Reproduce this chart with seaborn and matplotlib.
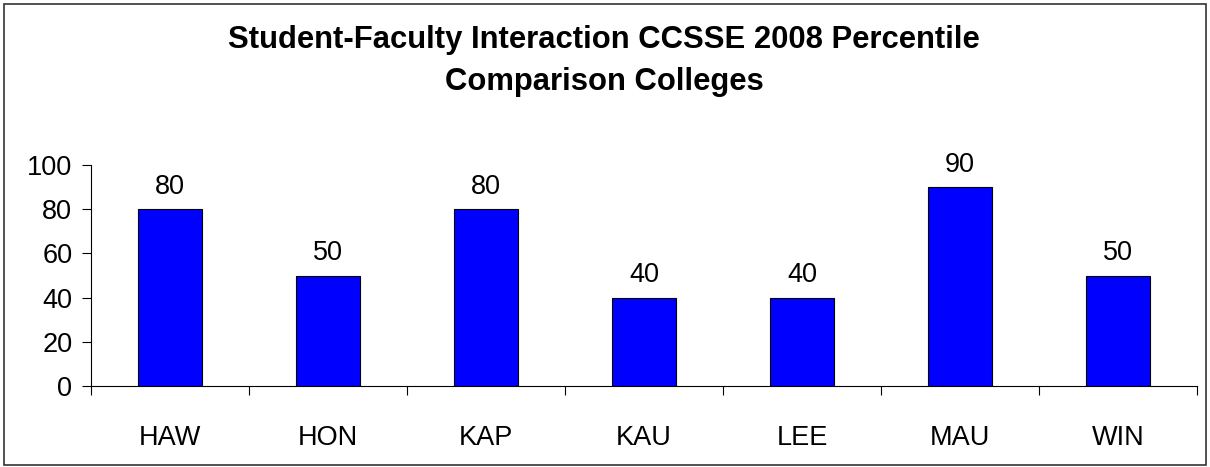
import matplotlib
matplotlib.use("Agg")
import matplotlib.pyplot as plt
import seaborn as sns
import pandas as pd
from matplotlib.patches import Rectangle

colleges = ["HAW", "HON", "KAP", "KAU", "LEE", "MAU", "WIN"]
percentiles = [80, 50, 80, 40, 40, 90, 50]
title_text = "Student-Faculty Interaction CCSSE 2008 Percentile\nComparison Colleges"

sns.set_style("white")
plt.rcParams["font.family"] = ["Liberation Sans", "DejaVu Sans"]
plt.rcParams["text.color"] = "black"
plt.rcParams["xtick.color"] = "black"
plt.rcParams["ytick.color"] = "black"

df = pd.DataFrame({"college": colleges, "pct": percentiles})

fig = plt.figure(figsize=(12.1, 4.67), dpi=100)
ax = fig.add_axes([91/1210, 1-386/467, (1197-91)/1210, (386-165)/467])

sns.barplot(data=df, x="college", y="pct", color="#0000FF", width=0.405,
            edgecolor="black", linewidth=0.8, saturation=1, ax=ax)

for i, v in enumerate(percentiles):
    ax.text(i, v + 10, str(v), ha="center", va="center", fontsize=19.5, color="black")

ax.set_ylim(0, 100)
ax.set_xlim(-0.5, len(colleges) - 0.5)
ax.set_yticks(range(0, 101, 20))
ax.set_xlabel("")
ax.set_ylabel("")
ax.tick_params(axis="y", labelsize=19.5, length=6.5, width=0.8, direction="out",
               left=True, pad=7, colors="black")
ax.tick_params(axis="x", labelsize=19.5, length=0, pad=28, colors="black")
ax.set_xticks([i - 0.5 for i in range(len(colleges) + 1)], minor=True)
ax.tick_params(axis="x", which="minor", length=6.5, width=0.8, direction="out", bottom=True)
for s in ["top", "right"]:
    ax.spines[s].set_visible(False)
for s in ["left", "bottom"]:
    ax.spines[s].set_color("black")
    ax.spines[s].set_linewidth(0.8)

fig.text(604/1210, 1-61/467, title_text, ha="center", va="center", fontsize=22.3,
         fontweight="bold", linespacing=1.5, color="black")

fig.patches.append(Rectangle((4/1210, 2/467), 1-8/1210, 1-6/467, transform=fig.transFigure,
                             fill=False, edgecolor="#333333", linewidth=1.2))

fig.savefig("out.png", dpi=100)
